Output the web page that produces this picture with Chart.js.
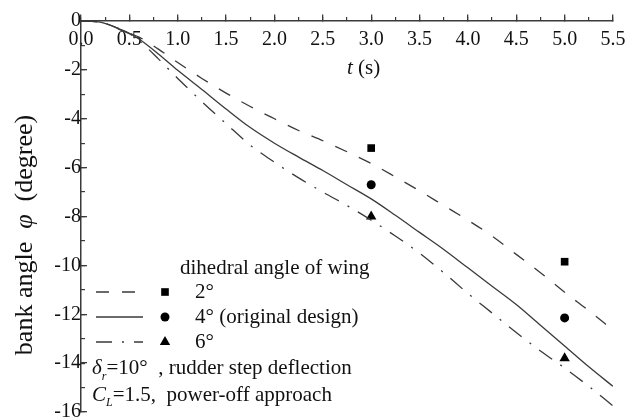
<!DOCTYPE html>
<html>
<head>
<meta charset="utf-8">
<script src="https://cdn.jsdelivr.net/npm/chart.js"></script>
<style>
  html, body { margin: 0; padding: 0; background: #fff; }
  #wrap { width: 628px; height: 418px; }
</style>
</head>
<body>
<div id="wrap"><canvas id="myChart" width="628" height="418"></canvas></div>
<script>
// time axis (s) shared by the three simulated curves
const timeValues = [0, 0.2, 0.4, 0.5, 0.6, 0.8, 1.0, 1.25, 1.5, 1.75, 2.0, 2.25, 2.5, 2.75, 3.0, 3.25, 3.5, 3.75, 4.0, 4.25, 4.5, 4.75, 5.0, 5.25, 5.5];
// bank angle (degree)
const phiDihedral2 = [0, -0.05, -0.33, -0.5, -0.66, -1.15, -1.7, -2.35, -2.95, -3.5, -4.0, -4.48, -4.9, -5.35, -5.83, -6.38, -6.95, -7.55, -8.15, -8.8, -9.55, -10.3, -11.1, -11.85, -12.65];
const phiDihedral4 = [0, -0.05, -0.33, -0.5, -0.74, -1.35, -2.02, -2.8, -3.6, -4.36, -5.0, -5.57, -6.12, -6.7, -7.28, -7.95, -8.65, -9.35, -10.1, -10.85, -11.6, -12.45, -13.3, -14.15, -14.95];
const phiDihedral6 = [0, -0.05, -0.35, -0.52, -0.8, -1.55, -2.35, -3.3, -4.2, -5.08, -5.78, -6.42, -7.0, -7.55, -8.15, -8.8, -9.5, -10.3, -11.15, -11.95, -12.75, -13.5, -14.2, -14.95, -15.75];

// flight test points
const testTimes = [3.0, 5.0];
const testDihedral2 = [-5.2, -9.85];
const testDihedral4 = [-6.7, -12.15];
const testDihedral6 = [-8.0, -13.8];

const seriesLabels = ['2°', '4° (original design)', '6°'];
const xTickStep = 0.5;
const yTickStep = 2;

const serif = "'Liberation Serif', 'Times New Roman', serif";
const ink = '#3a3a3a';

const toPoints = (xs, ys) => xs.map((x, i) => ({x, y: ys[i]}));

const lineSet = (label, values, dash) => ({
  label,
  data: toPoints(timeValues, values),
  borderColor: ink,
  borderWidth: 1.3,
  borderDash: dash,
  pointRadius: 0,
  cubicInterpolationMode: 'monotone',
  fill: false,
  xAxisID: 'x',
  yAxisID: 'y'
});

const markerSet = (label, values, style, radius) => ({
  label,
  data: toPoints(testTimes, values),
  showLine: false,
  pointStyle: style,
  pointRadius: radius,
  pointBackgroundColor: '#000',
  pointBorderColor: '#000',
  pointBorderWidth: 0,
  xAxisID: 'x',
  yAxisID: 'y'
});

const datasets = [
  lineSet(seriesLabels[0], phiDihedral2, [13, 13]),
  lineSet(seriesLabels[1], phiDihedral4, []),
  lineSet(seriesLabels[2], phiDihedral6, [16, 10, 2, 10]),
  markerSet(seriesLabels[0], testDihedral2, 'rect', 5.4),
  markerSet(seriesLabels[1], testDihedral4, 'circle', 4.5),
  markerSet(seriesLabels[2], testDihedral6, 'triangle', 6)
];

// draw a row of text runs, some italic, some shifted down as subscripts
const drawRuns = (ctx, runs, x, y) => {
  let cx = x;
  runs.forEach(r => {
    ctx.font = `${r.italic ? 'italic ' : ''}${r.size}px ${serif}`;
    ctx.fillText(r.text, cx, y + (r.dy || 0));
    cx += ctx.measureText(r.text).width;
  });
  return cx;
};

const runsWidth = (ctx, runs) => runs.reduce((w, r) => {
  ctx.font = `${r.italic ? 'italic ' : ''}${r.size}px ${serif}`;
  return w + ctx.measureText(r.text).width;
}, 0);

const drawMarker = (ctx, style, x, y, r) => {
  ctx.beginPath();
  if (style === 'rect') {
    const s = Math.SQRT1_2 * r;
    ctx.rect(x - s, y - s, 2 * s, 2 * s);
  } else if (style === 'circle') {
    ctx.arc(x, y, r, 0, Math.PI * 2);
  } else {
    ctx.moveTo(x, y - r);
    ctx.lineTo(x + r * Math.sin(Math.PI / 3), y + r / 2);
    ctx.lineTo(x - r * Math.sin(Math.PI / 3), y + r / 2);
    ctx.closePath();
  }
  ctx.fill();
};

const textPlugin = {
  id: 'figureText',
  afterDraw(chart) {
    const {ctx, chartArea} = chart;
    ctx.save();
    ctx.fillStyle = '#111';
    ctx.textBaseline = 'middle';
    ctx.textAlign = 'left';

    // x axis title under the tick labels
    const xTitle = [{text: 't', italic: true, size: 21}, {text: ' (s)', size: 21}];
    const xMid = chart.scales.x.getPixelForValue(2.9);
    drawRuns(ctx, xTitle, xMid - runsWidth(ctx, xTitle) / 2 + 2, chartArea.top + 47);

    // y axis title, rotated
    const yTitle = [{text: 'bank angle  ', size: 26}, {text: 'φ', italic: true, size: 26}, {text: '  (degree)', size: 26}];
    ctx.save();
    ctx.translate(25, 235);
    ctx.rotate(-Math.PI / 2);
    drawRuns(ctx, yTitle, -runsWidth(ctx, yTitle) / 2, 0);
    ctx.restore();

    // legend: line sample + test marker + label
    const legX = chartArea.left + 15;
    ctx.font = `21px ${serif}`;
    ctx.fillText('dihedral angle of wing', legX + 84, 268);
    const rowY = [292, 317, 342];
    for (let i = 0; i < 3; i++) {
      const line = chart.data.datasets[i];
      const mark = chart.data.datasets[i + 3];
      ctx.save();
      ctx.strokeStyle = line.borderColor;
      ctx.lineWidth = line.borderWidth;
      ctx.setLineDash(line.borderDash);
      ctx.beginPath();
      ctx.moveTo(legX, rowY[i]);
      ctx.lineTo(legX + 47, rowY[i]);
      ctx.stroke();
      ctx.restore();
      ctx.fillStyle = '#000';
      drawMarker(ctx, mark.pointStyle, legX + 69, rowY[i], mark.pointRadius);
      ctx.fillStyle = '#111';
      ctx.font = `21px ${serif}`;
      ctx.fillText(line.label, legX + 99, rowY[i]);
    }

    // test condition notes
    drawRuns(ctx, [
      {text: 'δ', italic: true, size: 21},
      {text: 'r', italic: true, size: 12, dy: 9},
      {text: '=10°  , rudder step deflection', size: 21}
    ], legX - 4, 368);
    drawRuns(ctx, [
      {text: 'C', italic: true, size: 21},
      {text: 'L', italic: true, size: 12, dy: 8},
      {text: '=1.5,  power-off approach', size: 21}
    ], legX - 4, 395);
    ctx.restore();
  }
};

const tickFont = {family: serif, size: 20};

// the axes sit on the plot edges, so their labels should not push the plot area inwards
const noEdgePadding = scale => {
  scale.paddingTop = 0;
  scale.paddingBottom = 0;
  scale.paddingLeft = 0;
  scale.paddingRight = 0;
};

new Chart(document.getElementById('myChart').getContext('2d'), {
  type: 'line',
  data: {datasets},
  options: {
    responsive: false,
    animation: false,
    layout: {padding: {left: 81, top: 21, right: 15, bottom: 6}},
    plugins: {legend: {display: false}, tooltip: {enabled: false}},
    scales: {
      x: {
        type: 'linear', axis: 'x', position: {y: 0}, min: 0, max: 5.5,
        afterFit: noEdgePadding,
        ticks: {stepSize: xTickStep, padding: 14, color: '#111', font: tickFont, maxRotation: 0, autoSkip: false,
          callback: v => v.toFixed(1)},
        grid: {drawOnChartArea: false, tickLength: -7, color: ink, lineWidth: 1.3},
        border: {display: true, color: ink, width: 1.5}
      },
      xMinor: {
        type: 'linear', axis: 'x', position: {y: 0}, min: 0, max: 5.5,
        afterFit: noEdgePadding,
        ticks: {display: false, stepSize: xTickStep / 2},
        grid: {drawOnChartArea: false, tickLength: -4, color: ink, lineWidth: 1.2},
        border: {display: false}
      },
      y: {
        type: 'linear', axis: 'y', position: {x: 0}, min: -16, max: 0,
        afterFit: noEdgePadding,
        ticks: {stepSize: yTickStep, padding: 12, color: '#111', font: tickFont},
        grid: {drawOnChartArea: false, tickLength: -7, color: ink, lineWidth: 1.3},
        border: {display: true, color: ink, width: 1.5}
      },
      yMinor: {
        type: 'linear', axis: 'y', position: {x: 0}, min: -16, max: 0,
        afterFit: noEdgePadding,
        ticks: {display: false, stepSize: yTickStep / 2},
        grid: {drawOnChartArea: false, tickLength: -4, color: ink, lineWidth: 1.2},
        border: {display: false}
      }
    }
  },
  plugins: [textPlugin]
});
</script>
</body>
</html>
